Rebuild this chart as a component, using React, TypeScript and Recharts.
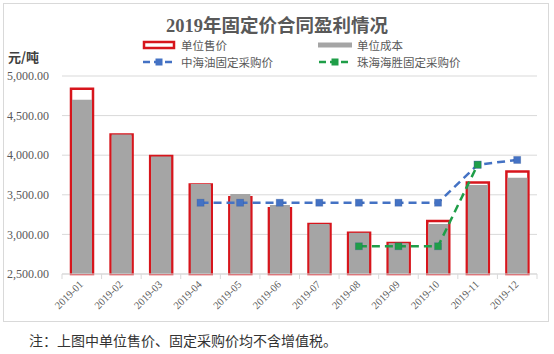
import React from 'react'
import { ComposedChart, Bar, Line, XAxis, YAxis, CartesianGrid } from 'recharts'

const months = ['2019-01', '2019-02', '2019-03', '2019-04', '2019-05', '2019-06', '2019-07', '2019-08', '2019-09', '2019-10', '2019-11', '2019-12']
const unitPrice = [4840, 4260, 3990, 3630, 3470, 3330, 3130, 3020, 2890, 3170, 3655, 3795]
const unitCost = [4700, 4260, 3985, 3635, 3510, 3370, 3130, 3020, 2890, 3130, 3625, 3715]
const cnoocPrice = [null, null, null, 3400, 3400, 3400, 3400, 3400, 3400, 3400, 3880, 3940]
const haishengPrice = [null, null, null, null, null, null, null, 2850, 2850, 2850, 3880, null]
const yTicks = [2500, 3000, 3500, 4000, 4500, 5000]

const data = months.map((m, i) => ({
    month: m,
    price: unitPrice[i],
    cost: unitCost[i],
    cnooc: cnoocPrice[i],
    haisheng: haishengPrice[i],
}))

const W = 554
const H = 354
const MARGIN = { top: 76, right: 17, left: 0, bottom: 30 }
const Y_AXIS_W = 62
const BAND = (W - MARGIN.left - MARGIN.right - Y_AXIS_W) / months.length

const SERIF = '"Liberation Serif", "Times New Roman", "Noto Sans CJK SC", serif'
const CJK = '"Noto Sans CJK SC", "Liberation Serif", sans-serif'
const TEXT = '#595959'
const RED = '#d7151c'
const GRAY = '#a5a5a5'
const BLUE = '#4472c4'
const GREEN = '#1f9e48'

const fmt = (v: number) => v.toLocaleString('en-US', { minimumFractionDigits: 2, maximumFractionDigits: 2 })

const MonthTick = (props: any) => {
    const { x, y, payload, index } = props
    const axisY = y - 8
    return (
        <g>
            <line x1={x - BAND / 2} x2={x - BAND / 2} y1={axisY} y2={axisY + 5} stroke="#d9d9d9" />
            {index === months.length - 1 && (
                <line x1={x + BAND / 2} x2={x + BAND / 2} y1={axisY} y2={axisY + 5} stroke="#d9d9d9" />
            )}
            <text
                x={x + 2}
                y={y + 3}
                textAnchor="end"
                transform={`rotate(-45 ${x + 2} ${y + 3})`}
                fontSize={10.5}
                fontFamily={SERIF}
                fill={TEXT}
            >
                {payload.value}
            </text>
        </g>
    )
}

const SquareDot = (color: string) => (props: any) => {
    const { cx, cy, value } = props
    if (value == null || cx == null || cy == null) return <g />
    return <rect x={cx - 3.5} y={cy - 3.5} width={7} height={7} fill={color} stroke="#2f4f8f" strokeOpacity={0.35} strokeWidth={0.8} />
}

const LegendItem = ({ left, top, icon, label }: { left: number; top: number; icon: React.ReactNode; label: string }) => (
    <div style={{ position: 'absolute', left, top, display: 'flex', alignItems: 'center', height: 16 }}>
        <svg width={34} height={10} style={{ display: 'block' }}>{icon}</svg>
        <div style={{ marginLeft: 5, fontSize: 11.5, fontFamily: CJK, color: TEXT, whiteSpace: 'nowrap', lineHeight: '16px', height: 16 }}>{label}</div>
    </div>
)

export default function App() {
    return (
        <div style={{ position: 'absolute', left: 0, top: 0, width: W, height: H, background: '#fff' }}>
            <div style={{ position: 'absolute', left: 3, top: 3, width: 544, height: 317, border: '1px solid #d9d9d9' }} />
            <div
                style={{
                    position: 'absolute',
                    left: 0,
                    width: W,
                    top: 14,
                    textAlign: 'center',
                    fontSize: 18.5,
                    fontWeight: 'bold',
                    fontFamily: SERIF,
                    color: TEXT,
                    lineHeight: '24px',
                }}
            >
                2019年固定价合同盈利情况
            </div>
            <div style={{ position: 'absolute', left: 8, top: 48, fontSize: 13, fontWeight: 'bold', fontFamily: CJK, color: '#404040', lineHeight: '18px' }}>
                元/吨
            </div>
            <LegendItem
                left={142}
                top={37}
                label="单位售价"
                icon={<rect x={2} y={2} width={30} height={6} fill="#fff" stroke={RED} strokeWidth={2.5} />}
            />
            <LegendItem left={318} top={37} label="单位成本" icon={<rect x={0} y={2.5} width={34} height={5} fill={GRAY} />} />
            <LegendItem
                left={142}
                top={54}
                label="中海油固定采购价"
                icon={
                    <g>
                        <line x1={1} x2={33} y1={5} y2={5} stroke={BLUE} strokeWidth={2.5} strokeDasharray="7 4" />
                        <rect x={13.5} y={1.5} width={7} height={7} fill={BLUE} />
                    </g>
                }
            />
            <LegendItem
                left={318}
                top={54}
                label="珠海海胜固定采购价"
                icon={
                    <g>
                        <line x1={1} x2={33} y1={5} y2={5} stroke={GREEN} strokeWidth={2.5} strokeDasharray="7 4" />
                        <rect x={13.5} y={1.5} width={7} height={7} fill={GREEN} />
                    </g>
                }
            />
            <div style={{ position: 'absolute', left: 0, top: 0 }}>
                <ComposedChart width={W} height={H} data={data} margin={MARGIN}>
                    <CartesianGrid vertical={false} stroke="#d9d9d9" />
                    <XAxis
                        xAxisId="a"
                        dataKey="month"
                        interval={0}
                        height={50}
                        axisLine={{ stroke: '#d9d9d9' }}
                        tickLine={false}
                        tick={<MonthTick />}
                    />
                    <XAxis xAxisId="b" dataKey="month" hide />
                    <YAxis
                        width={Y_AXIS_W}
                        domain={[2500, 5000]}
                        ticks={yTicks}
                        axisLine={false}
                        tickLine={false}
                        tickMargin={7}
                        tickFormatter={fmt}
                        tick={{ fontSize: 12, fontFamily: SERIF, fill: TEXT }}
                    />
                    <Bar xAxisId="a" dataKey="price" barSize={22} fill="#fff" stroke={RED} strokeWidth={2.5} isAnimationActive={false} />
                    <Bar xAxisId="b" dataKey="cost" barSize={20} fill={GRAY} isAnimationActive={false} />
                    <Line
                        xAxisId="a"
                        dataKey="cnooc"
                        stroke={BLUE}
                        strokeWidth={2.5}
                        strokeDasharray="8 5"
                        dot={SquareDot(BLUE)}
                        activeDot={false}
                        isAnimationActive={false}
                    />
                    <Line
                        xAxisId="a"
                        dataKey="haisheng"
                        stroke={GREEN}
                        strokeWidth={2.5}
                        strokeDasharray="8 5"
                        dot={SquareDot(GREEN)}
                        activeDot={false}
                        isAnimationActive={false}
                    />
                </ComposedChart>
            </div>
            <div style={{ position: 'absolute', left: 29, top: 331, fontSize: 14, fontFamily: CJK, color: '#333', whiteSpace: 'nowrap', lineHeight: '18px' }}>
                注：上图中单位售价、固定采购价均不含增值税。
            </div>
        </div>
    )
}
